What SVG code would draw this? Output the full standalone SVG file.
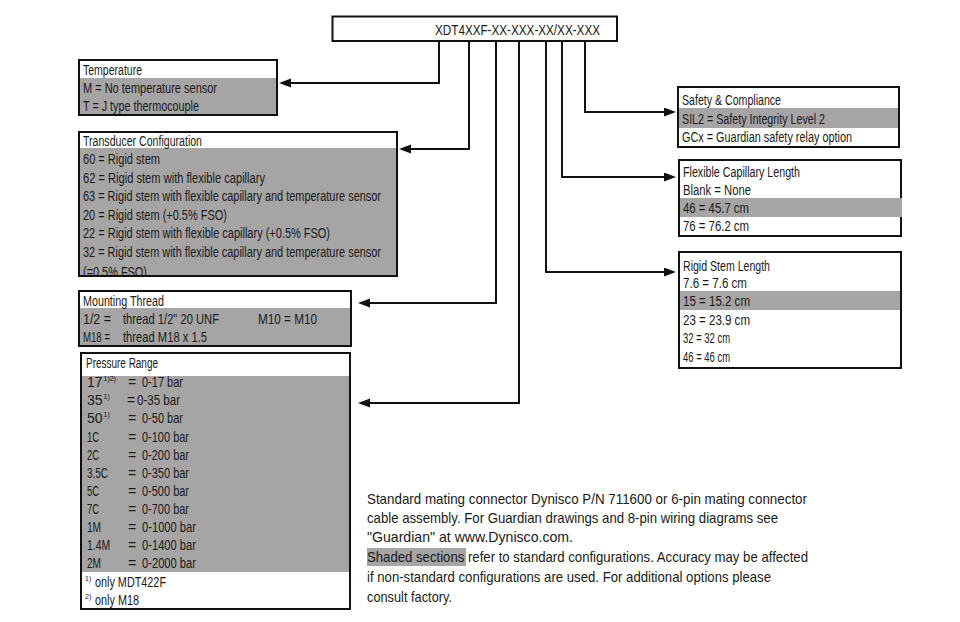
<svg xmlns="http://www.w3.org/2000/svg" width="960" height="622" viewBox="0 0 960 622">
<style>
.box{fill:#fff;stroke:#111;stroke-width:2}
.sh{fill:#a6a4a5}
.t{font-family:"Liberation Sans",Arial,sans-serif;font-size:14px;fill:#1a1a1a}
.sup{font-family:"Liberation Sans",Arial,sans-serif;font-size:7px;fill:#1a1a1a}
.n{font-family:"Liberation Sans",Arial,sans-serif;font-size:14.5px;fill:#1a1a1a}
.c{fill:none;stroke:#111;stroke-width:2}
</style>
<defs>
<marker id="ah" markerUnits="userSpaceOnUse" markerWidth="13" markerHeight="10" refX="1" refY="4.5" orient="auto">
<path d="M0,0 L12,4.5 L0,9 z" fill="#111"/>
</marker>
<clipPath id="clipTC"><rect x="79" y="132" width="318" height="143"/></clipPath>
</defs>
<rect width="960" height="622" fill="#fff"/>

<g id="code">
<rect class="box" x="332.5" y="16.5" width="284.5" height="24.5"/>
<text class="n" x="435" y="34.5" textLength="165" lengthAdjust="spacingAndGlyphs">XDT4XXF-XX-XXX-XX/XX-XXX</text>
</g>

<g id="connectors">
<path class="c" d="M439,41 V83 H290" marker-end="url(#ah)"/>
<path class="c" d="M469,41 V149 H410" marker-end="url(#ah)"/>
<path class="c" d="M496,41 V303 H369" marker-end="url(#ah)"/>
<path class="c" d="M519,41 V403 H369" marker-end="url(#ah)"/>
<path class="c" d="M546,41 V272 H665" marker-end="url(#ah)"/>
<path class="c" d="M562,41 V177 H665" marker-end="url(#ah)"/>
<path class="c" d="M585,41 V112 H665" marker-end="url(#ah)"/>
</g>

<g id="temperature">
<rect class="box" x="79" y="60" width="198" height="55"/>
<rect class="sh" x="80" y="78" width="196" height="36"/>
<text class="t" x="83" y="75" textLength="59" lengthAdjust="spacingAndGlyphs">Temperature</text>
<text class="t" x="83" y="92.5" textLength="134" lengthAdjust="spacingAndGlyphs">M = No temperature sensor</text>
<text class="t" x="83" y="111" textLength="116" lengthAdjust="spacingAndGlyphs">T = J type thermocouple</text>
</g>

<g id="transducer">
<rect class="box" x="79" y="132" width="318" height="144"/>
<rect class="sh" x="80" y="148" width="316" height="127"/>
<g clip-path="url(#clipTC)">
<text class="t" x="83" y="146" textLength="119" lengthAdjust="spacingAndGlyphs">Transducer Configuration</text>
<text class="t" x="83" y="164" textLength="77" lengthAdjust="spacingAndGlyphs">60 = Rigid stem</text>
<text class="t" x="83" y="182.5" textLength="182" lengthAdjust="spacingAndGlyphs">62 = Rigid stem with flexible capillary</text>
<text class="t" x="83" y="201" textLength="298" lengthAdjust="spacingAndGlyphs">63 = Rigid stem with flexible capillary and temperature sensor</text>
<text class="t" x="83" y="219.5" textLength="144" lengthAdjust="spacingAndGlyphs">20 = Rigid stem (+0.5% FSO)</text>
<text class="t" x="83" y="238" textLength="247" lengthAdjust="spacingAndGlyphs">22 = Rigid stem with flexible capillary (+0.5% FSO)</text>
<text class="t" x="83" y="256.5" textLength="298" lengthAdjust="spacingAndGlyphs">32 = Rigid stem with flexible capillary and temperature sensor</text>
<text class="t" x="83" y="276.5" textLength="64" lengthAdjust="spacingAndGlyphs">(=0.5% FSO)</text>
</g>
<rect x="79" y="132" width="318" height="144" fill="none" stroke="#111" stroke-width="2"/>
</g>

<g id="mounting">
<rect class="box" x="79" y="291" width="272" height="55"/>
<rect class="sh" x="80" y="308" width="270" height="37"/>
<text class="t" x="83" y="306" textLength="81" lengthAdjust="spacingAndGlyphs">Mounting Thread</text>
<text class="t" x="83" y="324" textLength="28" lengthAdjust="spacingAndGlyphs">1/2 =</text>
<text class="t" x="123" y="324" textLength="96" lengthAdjust="spacingAndGlyphs">thread 1/2&quot; 20 UNF</text>
<text class="t" x="258" y="324" textLength="59" lengthAdjust="spacingAndGlyphs">M10 = M10</text>
<text class="t" x="83" y="342" textLength="27" lengthAdjust="spacingAndGlyphs">M18 =</text>
<text class="t" x="123" y="342" textLength="84" lengthAdjust="spacingAndGlyphs">thread M18 x 1.5</text>
</g>

<g id="pressure">
<rect class="box" x="81" y="353" width="269" height="256"/>
<rect class="sh" x="82" y="376" width="267" height="196"/>
<text class="t" x="86" y="368" textLength="72" lengthAdjust="spacingAndGlyphs">Pressure Range</text>
<text class="t" x="87" y="387">17</text><text class="sup" x="103.5" y="381">1)2)</text>
<text class="t" x="128" y="387">=</text><text class="t" x="142" y="387" textLength="41" lengthAdjust="spacingAndGlyphs">0-17 bar</text>
<text class="t" x="87" y="405">35</text><text class="sup" x="103.5" y="399">1)</text>
<text class="t" x="127" y="405">=</text><text class="t" x="137" y="405" textLength="43" lengthAdjust="spacingAndGlyphs">0-35 bar</text>
<text class="t" x="87" y="423">50</text><text class="sup" x="103.5" y="417">1)</text>
<text class="t" x="128" y="423">=</text><text class="t" x="142" y="423" textLength="41" lengthAdjust="spacingAndGlyphs">0-50 bar</text>
<text class="t" x="87" y="441.5" textLength="12" lengthAdjust="spacingAndGlyphs">1C</text>
<text class="t" x="128" y="441.5">=</text><text class="t" x="142" y="441.5" textLength="47" lengthAdjust="spacingAndGlyphs">0-100 bar</text>
<text class="t" x="87" y="459.5" textLength="12" lengthAdjust="spacingAndGlyphs">2C</text>
<text class="t" x="128" y="459.5">=</text><text class="t" x="142" y="459.5" textLength="47" lengthAdjust="spacingAndGlyphs">0-200 bar</text>
<text class="t" x="87" y="477.5" textLength="21" lengthAdjust="spacingAndGlyphs">3.5C</text>
<text class="t" x="128" y="477.5">=</text><text class="t" x="142" y="477.5" textLength="47" lengthAdjust="spacingAndGlyphs">0-350 bar</text>
<text class="t" x="87" y="496" textLength="12" lengthAdjust="spacingAndGlyphs">5C</text>
<text class="t" x="128" y="496">=</text><text class="t" x="142" y="496" textLength="47" lengthAdjust="spacingAndGlyphs">0-500 bar</text>
<text class="t" x="87" y="514" textLength="12" lengthAdjust="spacingAndGlyphs">7C</text>
<text class="t" x="128" y="514">=</text><text class="t" x="142" y="514" textLength="47" lengthAdjust="spacingAndGlyphs">0-700 bar</text>
<text class="t" x="87" y="532" textLength="14" lengthAdjust="spacingAndGlyphs">1M</text>
<text class="t" x="128" y="532">=</text><text class="t" x="142" y="532" textLength="54" lengthAdjust="spacingAndGlyphs">0-1000 bar</text>
<text class="t" x="87" y="550" textLength="23" lengthAdjust="spacingAndGlyphs">1.4M</text>
<text class="t" x="128" y="550">=</text><text class="t" x="142" y="550" textLength="54" lengthAdjust="spacingAndGlyphs">0-1400 bar</text>
<text class="t" x="87" y="568" textLength="14" lengthAdjust="spacingAndGlyphs">2M</text>
<text class="t" x="128" y="568">=</text><text class="t" x="142" y="568" textLength="54" lengthAdjust="spacingAndGlyphs">0-2000 bar</text>
<text class="sup" x="85" y="581">1)</text><text class="t" x="95" y="587" textLength="71" lengthAdjust="spacingAndGlyphs">only MDT422F</text>
<text class="sup" x="85" y="599">2)</text><text class="t" x="95" y="605" textLength="44" lengthAdjust="spacingAndGlyphs">only M18</text>
</g>

<g id="safety">
<rect class="box" x="678" y="87" width="221" height="60"/>
<rect class="sh" x="679" y="108" width="219" height="20"/>
<text class="t" x="682" y="105" textLength="99" lengthAdjust="spacingAndGlyphs">Safety &amp; Compliance</text>
<text class="t" x="682" y="123.5" textLength="143" lengthAdjust="spacingAndGlyphs">SIL2 = Safety Integrity Level 2</text>
<text class="t" x="682" y="141.5" textLength="170" lengthAdjust="spacingAndGlyphs">GCx = Guardian safety relay option</text>
</g>

<g id="flexible">
<rect class="box" x="679" y="160" width="222" height="76"/>
<rect class="sh" x="680" y="198" width="222" height="19"/>
<text class="t" x="683" y="177" textLength="117" lengthAdjust="spacingAndGlyphs">Flexible Capillary Length</text>
<text class="t" x="683" y="195" textLength="68" lengthAdjust="spacingAndGlyphs">Blank = None</text>
<text class="t" x="683" y="212.5" textLength="66" lengthAdjust="spacingAndGlyphs">46 = 45.7 cm</text>
<text class="t" x="683" y="231" textLength="66" lengthAdjust="spacingAndGlyphs">76 = 76.2 cm</text>
</g>

<g id="rigid">
<rect class="box" x="679" y="252" width="222" height="116"/>
<rect class="sh" x="680" y="291" width="220" height="19"/>
<text class="t" x="683" y="271" textLength="87" lengthAdjust="spacingAndGlyphs">Rigid Stem Length</text>
<text class="t" x="683" y="288" textLength="64" lengthAdjust="spacingAndGlyphs">7.6 = 7.6 cm</text>
<text class="t" x="683" y="306" textLength="67" lengthAdjust="spacingAndGlyphs">15 = 15.2 cm</text>
<text class="t" x="683" y="325" textLength="67" lengthAdjust="spacingAndGlyphs">23 = 23.9 cm</text>
<text class="t" x="683" y="343" textLength="47" lengthAdjust="spacingAndGlyphs">32 = 32 cm</text>
<text class="t" x="683" y="361.5" textLength="47" lengthAdjust="spacingAndGlyphs">46 = 46 cm</text>
</g>

<g id="note">
<rect class="sh" x="367" y="548" width="99" height="18"/>
<text class="n" x="367" y="504" textLength="440" lengthAdjust="spacingAndGlyphs">Standard mating connector Dynisco P/N 711600 or 6-pin mating connector</text>
<text class="n" x="367" y="523" textLength="411" lengthAdjust="spacingAndGlyphs">cable assembly. For Guardian drawings and 8-pin wiring diagrams see</text>
<text class="n" x="367" y="542" textLength="206" lengthAdjust="spacingAndGlyphs">&quot;Guardian&quot; at www.Dynisco.com.</text>
<text class="n" x="367" y="562" textLength="441" lengthAdjust="spacingAndGlyphs">Shaded sections refer to standard configurations. Accuracy may be affected</text>
<text class="n" x="367" y="582" textLength="404" lengthAdjust="spacingAndGlyphs">if non-standard configurations are used. For additional options please</text>
<text class="n" x="367" y="602" textLength="85" lengthAdjust="spacingAndGlyphs">consult factory.</text>
</g>
</svg>
